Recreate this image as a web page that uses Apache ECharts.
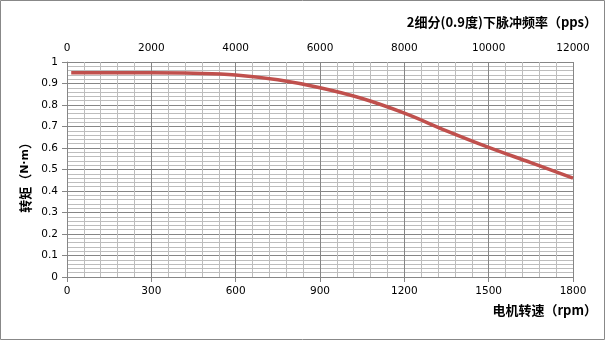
<!DOCTYPE html>
<html lang="zh">
<head>
<meta charset="UTF-8">
<title>矩频特性</title>
<script src="https://cdn.jsdelivr.net/npm/echarts@6/dist/echarts.min.js"></script>
<style>
  html, body { margin: 0; padding: 0; background: #fff; }
  #chart { width: 606px; height: 341px; }
</style>
</head>
<body>
<div id="chart"></div>
<script>
// 电机转速 (rpm) 与 转矩 (N·m)
var speedRpm = [15, 150, 300, 450, 600, 750, 900, 1050, 1200, 1350, 1500, 1650, 1800];
var torque   = [0.95, 0.95, 0.95, 0.948, 0.94, 0.917, 0.88, 0.83, 0.762, 0.68, 0.603, 0.532, 0.46];

var bottomTicks = [0, 300, 600, 900, 1200, 1500, 1800];
var topTicks = [0, 2000, 4000, 6000, 8000, 10000, 12000];

var labelFont = { color: '#000', fontSize: 10.5, fontFamily: 'DejaVu Sans' };
var nameFont = 'bold 13px "Noto Sans CJK SC"';
var plain = function (v) { return String(Math.round(v * 10) / 10); };

var chart = echarts.init(document.getElementById('chart'));
var option = {
  animation: false,
  grid: { left: 67, right: 33, top: 62, bottom: 64 },
  xAxis: [
    {
      type: 'value', position: 'bottom',
      min: bottomTicks[0], max: bottomTicks[bottomTicks.length - 1], interval: 300,
      axisLine: { onZero: false, lineStyle: { color: '#868686' } },
      axisTick: { show: true, length: 5, lineStyle: { color: '#868686' } },
      axisLabel: Object.assign({ margin: 9, formatter: plain }, labelFont),
      splitLine: { show: true, lineStyle: { color: '#868686', width: 1 } },
      minorTick: { show: true, splitNumber: 5, length: 0 },
      minorSplitLine: { show: true, lineStyle: { color: '#bdbdbd', width: 1 } }
    },
    {
      type: 'value', position: 'top',
      min: topTicks[0], max: topTicks[topTicks.length - 1], interval: 2000,
      axisLine: { show: true, lineStyle: { color: '#868686' } },
      axisTick: { show: true, length: 4, lineStyle: { color: '#868686' } },
      axisLabel: Object.assign({ margin: 8, formatter: plain }, labelFont),
      splitLine: { show: false }
    }
  ],
  yAxis: {
    type: 'value', min: 0, max: 1, interval: 0.1,
    axisLine: { show: true, lineStyle: { color: '#868686' } },
    axisTick: { show: true, length: 5, lineStyle: { color: '#868686' } },
    axisLabel: Object.assign({ margin: 9, formatter: plain }, labelFont),
    splitLine: { show: true, lineStyle: { color: '#868686', width: 1 } },
    minorTick: { show: true, splitNumber: 5, length: 0 },
    minorSplitLine: { show: true, lineStyle: { color: '#bdbdbd', width: 1 } }
  },
  series: [{
    type: 'line',
    xAxisIndex: 0,
    data: speedRpm.map(function (s, i) { return [s, torque[i]]; }),
    smooth: 0.4,
    showSymbol: false,
    lineStyle: { color: '#c0504d', width: 3.5 }
  }],
  graphic: [
    { type: 'rect', shape: { x: 0.5, y: 0.5, width: 604, height: 339 },
      style: { fill: 'none', stroke: '#888', lineWidth: 1 }, silent: true },
    { type: 'text', right: 9, top: 16,
      style: { text: '2细分(0.9度)下脉冲频率（pps）', font: nameFont, fill: '#000' } },
    { type: 'text', right: 9, top: 304,
      style: { text: '电机转速（rpm）', font: nameFont, fill: '#000' } },
    { type: 'text', left: 19, top: 136, rotation: Math.PI / 2,
      style: {
        text: '{c|转矩（}{l|N·m}{c|）}',
        rich: {
          c: { font: nameFont, fill: '#000' },
          l: { font: 'bold 11px "DejaVu Sans"', fill: '#000' }
        }
      } }
  ]
};
chart.setOption(option);
</script>
</body>
</html>
